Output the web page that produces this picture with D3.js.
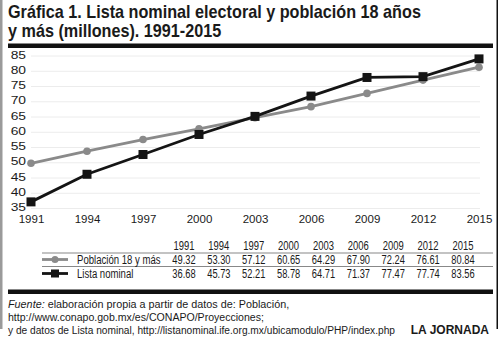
<!DOCTYPE html>
<html>
<head>
<meta charset="utf-8">
<script src="https://cdn.jsdelivr.net/npm/d3@7"></script>
<style>
  body { margin: 0; background: #fff; }
  svg { display: block; }
  text { font-family: "Liberation Sans", Arial, sans-serif; fill: #1a1a1a; }
</style>
</head>
<body>
<div id="chart"></div>
<script>
  // Datos
  var years = ["1991", "1994", "1997", "2000", "2003", "2006", "2009", "2012", "2015"];
  var poblacion = [49.32, 53.30, 57.12, 60.65, 64.29, 67.90, 72.24, 76.61, 80.84];
  var listaNominal = [36.68, 45.73, 52.21, 58.78, 64.71, 71.37, 77.47, 77.74, 83.56];
  var yTicks = [35, 40, 45, 50, 55, 60, 65, 70, 75, 80, 85];
  var seriesNames = ["Población 18 y más", "Lista nominal"];

  const width = 500, height = 341;

  const svg = d3.select('#chart')
      .append('svg')
      .attr('width', width)
      .attr('height', height);

  // scale a text horizontally by k around its own anchor point
  function squeeze(sel, k) {
      sel.each(function () {
          var t = d3.select(this);
          var x = +t.attr("x") || 0, y = +t.attr("y") || 0;
          t.attr("x", 0).attr("y", 0)
              .attr("transform", "translate(" + x + "," + y + ") scale(" + k + ",1)");
      });
  }

  // marco
  svg.append("rect")
      .attr("x", 0).attr("y", 0)
      .attr("width", 2.5).attr("height", 329)
      .attr("fill", "#9a9a9a");
  svg.append("rect")
      .attr("x", 496.5).attr("y", 0)
      .attr("width", 1.5).attr("height", 329)
      .attr("fill", "#111");

  // titulo
  var title = svg.append("g")
      .attr("font-weight", "bold")
      .attr("font-size", 18);
  title.append("text").attr("x", 8).attr("y", 18)
      .text("Gráfica 1. Lista nominal electoral y población 18 años")
      .call(squeeze, 0.9);
  title.append("text").attr("x", 8).attr("y", 36.5)
      .text("y más (millones). 1991-2015")
      .call(squeeze, 0.9);

  // reglas gruesas
  svg.append("rect").attr("x", 8).attr("y", 43.5).attr("width", 485).attr("height", 4.5).attr("fill", "#111");
  svg.append("rect").attr("x", 8).attr("y", 289.5).attr("width", 485).attr("height", 4.5).attr("fill", "#111");

  // escalas
  var xScale = d3.scalePoint()
      .domain(years)
      .range([31, 479]);

  var yScale = d3.scaleLinear()
      .domain([35, 85])
      .range([207, 54.5]);

  // rejilla
  svg.append("g")
      .selectAll("line")
      .data(yTicks)
      .enter()
      .append("line")
      .attr("x1", 31)
      .attr("x2", 480)
      .attr("y1", (d) => yScale(d) + 1.5)
      .attr("y2", (d) => yScale(d) + 1.5)
      .attr("stroke", "#ececec")
      .attr("stroke-width", 1);

  // eje y
  var yAxis = svg.append("g")
      .attr("transform", "translate(26,0)")
      .call(d3.axisLeft(yScale).tickValues(yTicks).tickSize(0).tickPadding(0));
  yAxis.select(".domain").remove();
  yAxis.selectAll("text")
      .attr("font-size", 11.5)
      .attr("font-family", null)
      .attr("fill", "#1a1a1a")
      .attr("textLength", function () { return this.getComputedTextLength() * 1.2; })
      .attr("lengthAdjust", "spacingAndGlyphs");

  // eje x
  var xAxis = svg.append("g")
      .attr("transform", "translate(0,214.5)")
      .call(d3.axisBottom(xScale).tickSize(0).tickPadding(0));
  xAxis.select(".domain").remove();
  xAxis.selectAll("text")
      .attr("font-size", 11.5)
      .attr("fill", "#1a1a1a")
      .attr("font-family", null);

  // lineas
  var line = d3.line()
      .x((d, i) => xScale(years[i]))
      .y((d) => yScale(d));

  svg.append("path")
      .datum(poblacion)
      .attr("d", line)
      .attr("fill", "none")
      .attr("stroke", "#8a8a8a")
      .attr("stroke-width", 2.8);

  svg.selectAll("circle.pob")
      .data(poblacion)
      .enter()
      .append("circle")
      .attr("class", "pob")
      .attr("cx", (d, i) => xScale(years[i]))
      .attr("cy", (d) => yScale(d))
      .attr("r", 3.8)
      .attr("fill", "#8a8a8a");

  svg.append("path")
      .datum(listaNominal)
      .attr("d", line)
      .attr("fill", "none")
      .attr("stroke", "#141414")
      .attr("stroke-width", 2.8);

  svg.selectAll("rect.lista")
      .data(listaNominal)
      .enter()
      .append("rect")
      .attr("class", "lista")
      .attr("x", (d, i) => xScale(years[i]) - 4.5)
      .attr("y", (d) => yScale(d) - 4.5)
      .attr("width", 9)
      .attr("height", 9)
      .attr("fill", "#141414");

  // tabla de datos
  var colScale = d3.scalePoint()
      .domain(years)
      .range([184, 463]);

  var table = svg.append("g").attr("font-size", 13.5);

  table.selectAll("text.head")
      .data(years)
      .enter()
      .append("text")
      .attr("class", "head")
      .attr("x", (d) => colScale(d))
      .attr("y", 249.5)
      .attr("text-anchor", "middle")
      .text((d) => d)
      .call(squeeze, 0.7);

  [253, 266.5].forEach(function (y) {
      table.append("line")
          .attr("x1", 42).attr("x2", 493)
          .attr("y1", y).attr("y2", y)
          .attr("stroke", "#888")
          .attr("stroke-width", 1.2);
  });

  var rows = [
      { name: seriesNames[0], values: poblacion, y: 264, color: "#8a8a8a", mark: "circle" },
      { name: seriesNames[1], values: listaNominal, y: 278, color: "#141414", mark: "square" }
  ];

  rows.forEach(function (row) {
      var ly = row.y - 4.5;
      table.append("line")
          .attr("x1", 42).attr("x2", 68)
          .attr("y1", ly).attr("y2", ly)
          .attr("stroke", row.color)
          .attr("stroke-width", 2.8);
      if (row.mark === "circle") {
          table.append("circle").attr("cx", 55).attr("cy", ly).attr("r", 3.5).attr("fill", row.color);
      } else {
          table.append("rect").attr("x", 51).attr("y", ly - 4).attr("width", 8).attr("height", 8).attr("fill", row.color);
      }
      table.append("text")
          .attr("x", 77)
          .attr("y", row.y)
          .text(row.name)
          .call(squeeze, 0.71);
      table.selectAll(null)
          .data(row.values)
          .enter()
          .append("text")
          .attr("x", (d, i) => colScale(years[i]))
          .attr("y", row.y)
          .attr("text-anchor", "middle")
          .text((d) => d.toFixed(2))
          .call(squeeze, 0.69);
  });

  // fuente
  var foot = svg.append("g").attr("font-size", 11.5);
  var f1 = foot.append("text").attr("x", 8).attr("y", 307.5);
  f1.append("tspan").attr("font-style", "italic").text("Fuente:");
  f1.append("tspan").text(" elaboración propia a partir de datos de: Población,");
  f1.call(squeeze, 0.94);
  foot.append("text").attr("x", 8).attr("y", 320.5)
      .text("http://www.conapo.gob.mx/es/CONAPO/Proyecciones;")
      .call(squeeze, 0.92);
  foot.append("text").attr("x", 8).attr("y", 333.5)
      .text("y de datos de Lista nominal, http://listanominal.ife.org.mx/ubicamodulo/PHP/index.php")
      .call(squeeze, 0.885);
  foot.append("text").attr("x", 489).attr("y", 333.5)
      .attr("text-anchor", "end")
      .attr("font-weight", "bold")
      .attr("font-size", 12)
      .text("LA JORNADA");
</script>
</body>
</html>
